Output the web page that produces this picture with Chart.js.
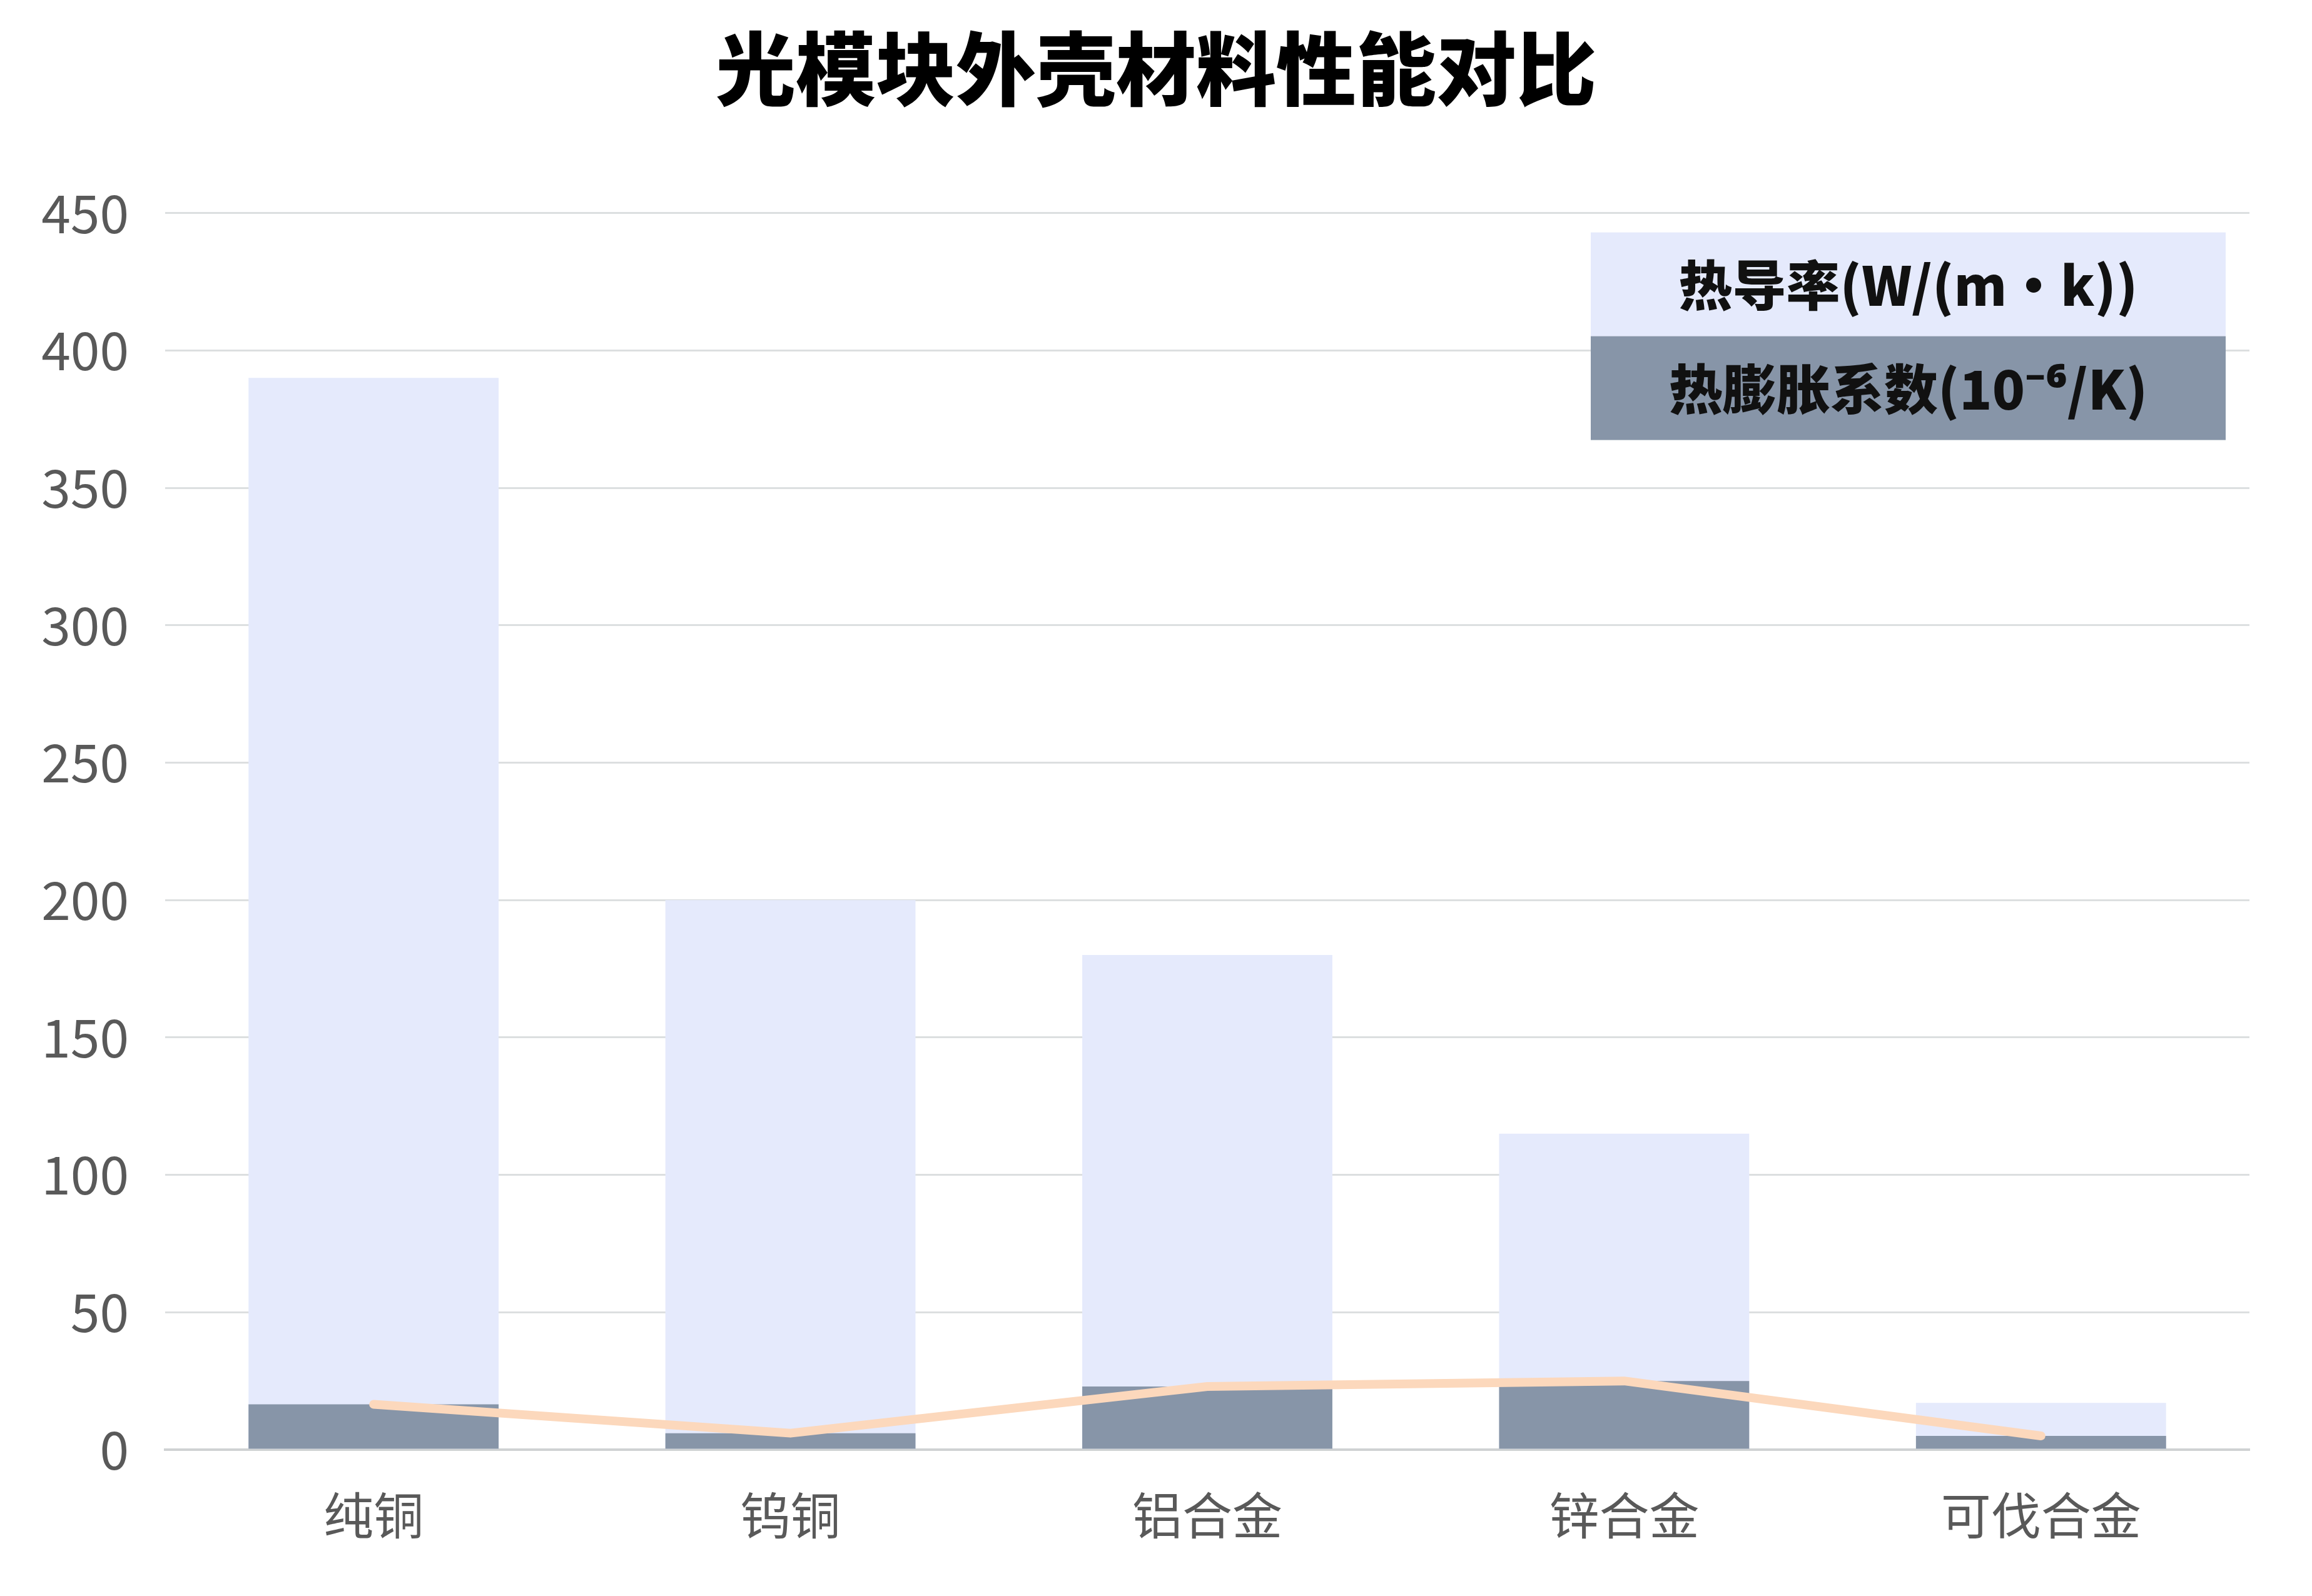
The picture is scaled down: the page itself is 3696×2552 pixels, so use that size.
<!DOCTYPE html>
<html>
<head>
<meta charset="utf-8">
<script src="https://cdn.jsdelivr.net/npm/chart.js@4/dist/chart.umd.min.js"></script>
<style>
  html, body { margin: 0; padding: 0; background: #fff; }
  canvas { display: block; }
</style>
</head>
<body>
<canvas id="chart" width="3696" height="2552"></canvas>
<script>
const materials = ['纯铜', '钨铜', '铝合金', '锌合金', '可伐合金'];
const conductivity = [390, 200, 180, 115, 17];
const expansion = [16.5, 6, 23, 25, 5];
const seriesNames = ['热导率(W/(m·k))', '热膨胀系数(10⁻⁶/K)'];
const yMax = 450;
const yStep = 50;

const FONT = '"Noto Sans CJK SC", "Noto Sans", sans-serif';

// legend drawn as two stacked filled rows with the label centred inside
const boxLegend = {
    id: 'boxLegend',
    afterDraw(chart) {
        const {ctx, chartArea} = chart;
        const w = 1015, rowH = 166;
        const x = chartArea.right - 38 - w;
        let y = chartArea.top + 31;
        const items = chart.data.datasets.filter(d => d.type !== 'line');
        ctx.save();
        ctx.textAlign = 'center';
        ctx.textBaseline = 'middle';
        ctx.font = '900 86px ' + FONT;
        items.forEach(d => {
            ctx.fillStyle = d.backgroundColor;
            ctx.fillRect(x, y, w, rowH);
            ctx.fillStyle = '#111';
            ctx.fillText(d.label, x + w / 2, y + rowH / 2 + 2);
            y += rowH;
        });
        ctx.restore();
    }
};

const chart = document.querySelector('canvas#chart');

if (chart) {
    new Chart(chart, {
        type: 'bar',
        data: {
            labels: materials,
            datasets: [{
                type: 'line',
                label: seriesNames[1],
                data: expansion,
                borderColor: '#fcd8bc',
                borderWidth: 14,
                borderCapStyle: 'round',
                borderJoinStyle: 'round',
                pointRadius: 0,
                tension: 0,
                order: 0
            }, {
                label: seriesNames[0],
                data: conductivity,
                backgroundColor: '#e5eafc',
                grouped: false,
                order: 2
            }, {
                label: seriesNames[1],
                data: expansion,
                backgroundColor: '#8795a8',
                grouped: false,
                order: 1
            }]
        },
        options: {
            responsive: false,
            devicePixelRatio: 1,
            animation: false,
            layout: {padding: {left: 48, right: 48, top: 34, bottom: 24}},
            datasets: {
                bar: {barPercentage: 0.6, categoryPercentage: 1.0}
            },
            plugins: {
                legend: {display: false},
                tooltip: {enabled: false},
                title: {
                    display: true,
                    text: '光模块外壳材料性能对比',
                    color: '#000',
                    font: {family: FONT, size: 128, weight: '900', lineHeight: 1.2},
                    padding: {top: 0, bottom: 153}
                }
            },
            scales: {
                x: {
                    grid: {display: false, drawTicks: false},
                    border: {display: true, color: '#cfd2d3', width: 4},
                    ticks: {
                        color: '#595959',
                        padding: 57,
                        font: {family: FONT, size: 80}
                    }
                },
                y: {
                    min: 0,
                    max: yMax,
                    grid: {color: '#dcdfe0', lineWidth: 3, drawTicks: false},
                    border: {display: false},
                    afterFit(scale) { scale.width = 216; },
                    ticks: {
                        stepSize: yStep,
                        color: '#595959',
                        padding: 58,
                        font: {family: FONT, size: 84}
                    }
                },
                // empty right-hand axis, only keeps a white margin on the right
                yRight: {
                    position: 'right',
                    min: 0,
                    max: yMax,
                    grid: {display: false, drawTicks: false},
                    border: {display: false},
                    ticks: {display: false},
                    afterFit(scale) { scale.width = 52; }
                }
            }
        },
        plugins: [boxLegend]
    });
}
</script>
</body>
</html>
